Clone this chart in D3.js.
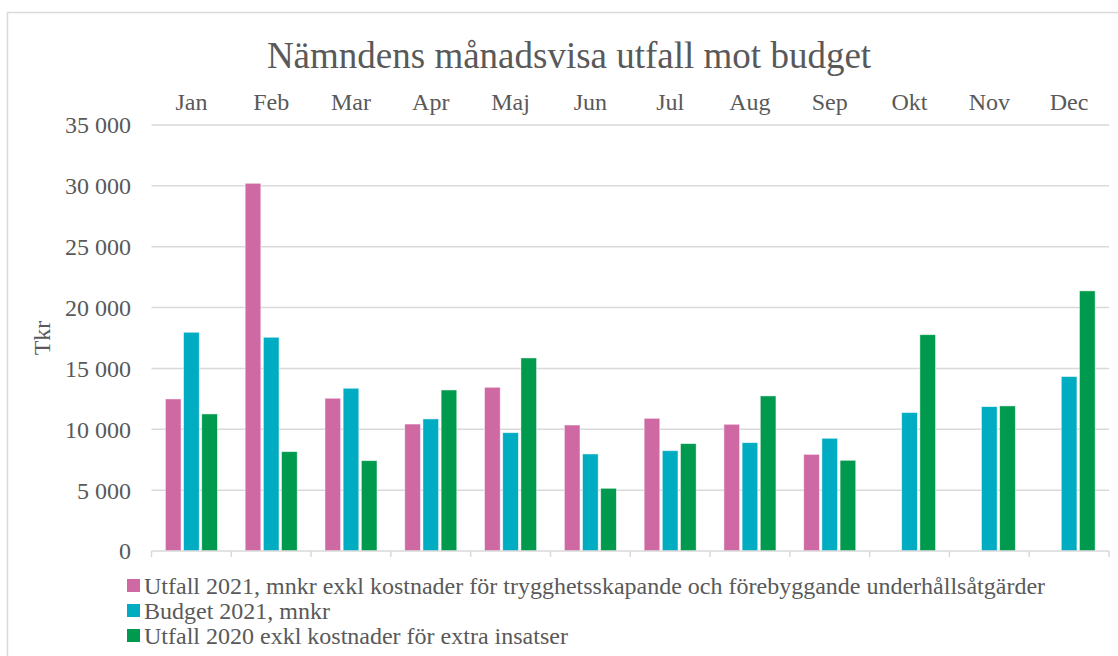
<!DOCTYPE html>
<meta charset="utf-8">
<head>
  <title>Nämndens månadsvisa utfall mot budget</title>
  <style>
    body { margin: 0; background: #fff; }
    text { font-family: "Liberation Serif", "Times New Roman", serif; fill: #595959; }
    .grid line { stroke: #d9d9d9; stroke-width: 1.5px; }
  </style>
</head>
<body>
  <svg width="1118" height="656"></svg>
  <script src="https://d3js.org/d3.v7.min.js"></script>
  <script>
    var months = ["Jan", "Feb", "Mar", "Apr", "Maj", "Jun", "Jul", "Aug", "Sep", "Okt", "Nov", "Dec"];
    var utfall2021 = [12490, 30210, 12550, 10430, 13450, 10350, 10900, 10410, 7940, null, null, null];
    var budget2021 = [17970, 17560, 13370, 10850, 9720, 7970, 8240, 8900, 9260, 11370, 11860, 14330];
    var utfall2020 = [11260, 8160, 7420, 13230, 15860, 5150, 8820, 12740, 7450, 17770, 11920, 21370];
    var seriesNames = [
      "Utfall 2021, mnkr exkl kostnader för trygghetsskapande och förebyggande underhållsåtgärder",
      "Budget 2021, mnkr",
      "Utfall 2020 exkl kostnader för extra insatser"
    ];
    var colors = ["#cf69a4", "#00acc1", "#009a4f"];
    var yTicks = [0, 5000, 10000, 15000, 20000, 25000, 30000, 35000];

    var series = [utfall2021, budget2021, utfall2020];

    var svg = d3.select("svg");

    // chart border
    svg.append("rect")
        .attr("x", 7.5).attr("y", 12.5)
        .attr("width", 1130).attr("height", 660)
        .attr("fill", "none").attr("stroke", "#d9d9d9").attr("stroke-width", 1.5);

    var plotLeft = 151.5, plotRight = 1109, plotTop = 125, plotBottom = 551;

    var x = d3.scaleBand().domain(months).range([plotLeft, plotRight]);
    var x1 = d3.scaleBand().domain([0, 1, 2]).range([-26, 26]).paddingInner(0.14);
    var y = d3.scaleLinear().domain([0, 35000]).range([plotBottom, plotTop]);

    // title
    svg.append("text")
        .attr("x", 569).attr("y", 68)
        .attr("text-anchor", "middle")
        .style("font-size", "37px")
        .text("Nämndens månadsvisa utfall mot budget");

    // gridlines
    svg.append("g").attr("class", "grid")
      .selectAll("line")
      .data(yTicks.slice(1))
      .enter().append("line")
        .attr("x1", plotLeft).attr("x2", plotRight)
        .attr("y1", function(d) { return y(d); })
        .attr("y2", function(d) { return y(d); });

    // y tick labels
    var fmt = function(d) { return d3.format(",")(d).replace(/,/g, " "); };
    svg.append("g")
      .selectAll("text")
      .data(yTicks)
      .enter().append("text")
        .attr("x", 131)
        .attr("y", function(d) { return y(d); })
        .attr("dy", "0.35em")
        .attr("text-anchor", "end")
        .style("font-size", "24px")
        .text(fmt);

    // y axis title
    svg.append("text")
        .attr("transform", "translate(50,338) rotate(-90)")
        .attr("text-anchor", "middle")
        .style("font-size", "24px")
        .text("Tkr");

    // month labels at top
    svg.append("g")
      .selectAll("text")
      .data(months)
      .enter().append("text")
        .attr("x", function(d) { return x(d) + x.bandwidth() / 2; })
        .attr("y", 110)
        .attr("text-anchor", "middle")
        .style("font-size", "24px")
        .text(function(d) { return d; });

    // bars
    var groups = svg.append("g")
      .selectAll("g")
      .data(months)
      .enter().append("g")
        .attr("transform", function(d) { return "translate(" + (x(d) + x.bandwidth() / 2) + ",0)"; });

    groups.selectAll("rect")
      .data(function(d, i) {
        return series.map(function(s, k) { return { k: k, v: s[i] }; })
          .filter(function(e) { return e.v != null; });
      })
      .enter().append("rect")
        .attr("x", function(d) { return x1(d.k); })
        .attr("width", x1.bandwidth())
        .attr("y", function(d) { return y(d.v); })
        .attr("height", function(d) { return y(0) - y(d.v); })
        .attr("fill", function(d) { return colors[d.k]; })
        .attr("stroke", "#ffffff")
        .attr("stroke-opacity", 0.6)
        .attr("stroke-width", 0.75);

    // x axis line and ticks
    var ax = svg.append("g").attr("class", "grid");
    ax.append("line")
        .attr("x1", plotLeft).attr("x2", plotRight)
        .attr("y1", plotBottom).attr("y2", plotBottom);
    ax.selectAll(".tick")
      .data(months.concat(["end"]))
      .enter().append("line")
        .attr("class", "tick")
        .attr("x1", function(d, i) { return plotLeft + i * x.step(); })
        .attr("x2", function(d, i) { return plotLeft + i * x.step(); })
        .attr("y1", plotBottom).attr("y2", plotBottom + 6);

    // legend
    var legend = svg.append("g")
      .selectAll("g")
      .data(seriesNames)
      .enter().append("g")
        .attr("transform", function(d, i) { return "translate(127," + (586 + i * 25) + ")"; });

    legend.append("rect")
        .attr("x", 0).attr("y", -7)
        .attr("width", 13).attr("height", 13)
        .attr("fill", function(d, i) { return colors[i]; });

    legend.append("text")
        .attr("x", 17)
        .attr("dy", "0.35em")
        .style("font-size", "24px")
        .text(function(d) { return d; });
  </script>
</body>
</html>
